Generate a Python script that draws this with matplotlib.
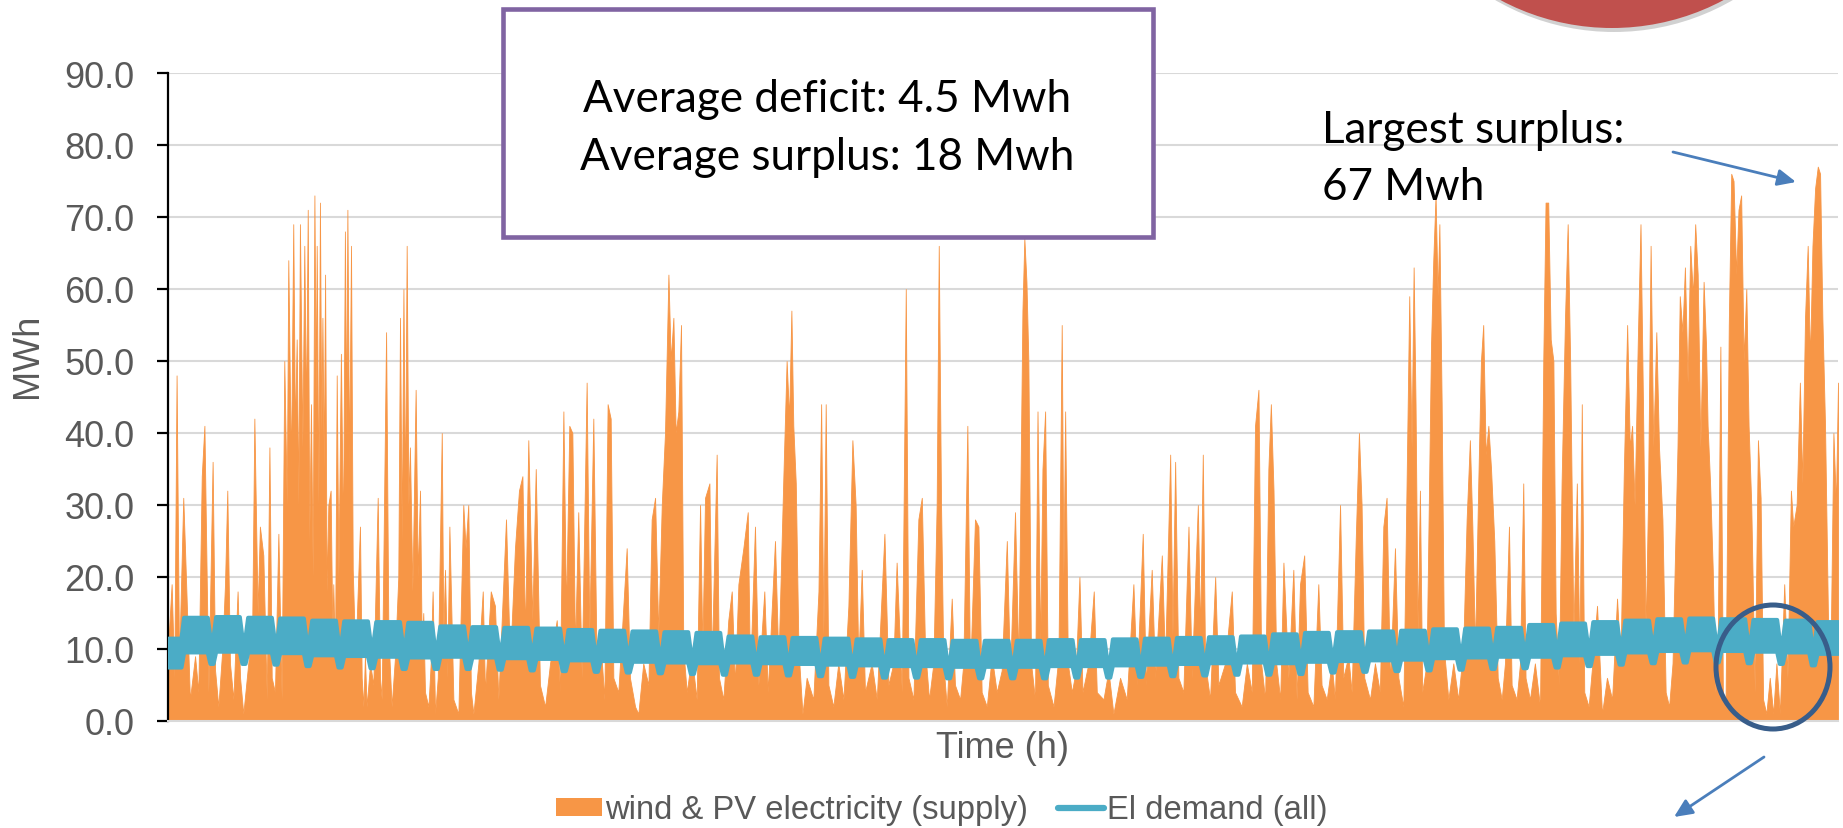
import matplotlib
matplotlib.use("Agg")
import matplotlib.pyplot as plt
from matplotlib.patches import Rectangle, Circle, Ellipse, Patch
from matplotlib.lines import Line2D

# ---------------- data ----------------
# wind & PV supply, hour of year -> MWh (peaks and troughs)
hours_1 = [0, 19, 33, 45, 58, 80, 89, 115, 142, 159,
           177, 191, 212, 234, 247, 264, 285, 299, 311, 325,
           343, 365, 378, 395, 421, 442, 453, 470, 482, 500,
           518, 532, 544, 561, 579, 596, 610, 623, 631, 645,
           657, 666, 675, 684, 692, 705, 715, 724, 733, 741,
           750, 759, 768, 775, 780, 789, 797, 804, 810, 817,
           824, 832, 841, 853, 862, 867, 876, 885, 894, 907,
           918, 928, 935, 941, 950, 960, 969, 981, 990, 1007,
           1016, 1025, 1033, 1042, 1060, 1077, 1100, 1112, 1121, 1144,
           1156, 1173, 1191, 1208, 1217, 1226, 1235, 1243, 1252, 1261,
           1269, 1282, 1299, 1310, 1322, 1331, 1339, 1348, 1366, 1378,
           1388, 1401, 1415, 1436, 1444, 1453, 1465, 1476]
supply_1 = [10, 19, 6, 48, 8, 31, 24, 3, 9, 4,
            34, 41, 4, 36, 7, 2, 10, 19, 32, 8,
            3, 18, 6, 1, 8, 14, 42, 15, 27, 23,
            3, 38, 6, 4, 26, 3, 50, 30, 64, 35,
            69, 40, 53, 30, 69, 38, 66, 42, 71, 25,
            44, 20, 73, 45, 66, 30, 72, 40, 56, 35,
            62, 18, 30, 32, 12, 19, 8, 48, 20, 51,
            25, 68, 40, 71, 35, 66, 21, 10, 14, 27,
            6, 2, 9, 2, 8, 5, 31, 6, 3, 54,
            12, 2, 9, 20, 56, 25, 60, 30, 66, 30,
            38, 18, 46, 20, 32, 10, 15, 4, 2, 8,
            18, 1, 6, 40, 12, 21, 6, 27]

hours_2 = [1497, 1523, 1549, 1561, 1575, 1589, 1602, 1628, 1651, 1663,
           1693, 1715, 1733, 1773, 1794, 1820, 1841, 1859, 1873, 1890,
           1911, 1929, 1951, 1978, 2004, 2039, 2056, 2074, 2088, 2105,
           2121, 2135, 2152, 2170, 2196, 2210, 2231, 2249, 2271, 2289,
           2306, 2322, 2336, 2362, 2380, 2406, 2423, 2450, 2467, 2493,
           2520, 2537, 2555, 2572, 2590, 2607, 2625, 2637, 2651, 2663,
           2677, 2691, 2703, 2721, 2747, 2773, 2791, 2803, 2817, 2840,
           2852, 2878, 2890, 2913]
supply_2 = [3, 1, 30, 24, 30, 4, 1, 8, 18, 4,
            18, 16, 3, 28, 8, 24, 32, 34, 12, 39,
            14, 35, 5, 2, 8, 14, 4, 43, 15, 41,
            40, 10, 29, 6, 47, 12, 42, 6, 10, 3,
            44, 42, 6, 4, 12, 24, 6, 2, 1, 8,
            5, 28, 31, 12, 30, 40, 62, 50, 56, 40,
            43, 55, 10, 4, 9, 3, 30, 10, 31, 33,
            8, 37, 6, 3]

hours_3 = [2939, 2957, 2974, 2992, 3018, 3041, 3053, 3079, 3097, 3128,
           3146, 3184, 3202, 3228, 3245, 3258, 3270, 3280, 3293, 3307,
           3328, 3350, 3385, 3412, 3426, 3438, 3450, 3464, 3490, 3516,
           3543, 3569, 3590, 3607, 3621, 3639, 3656, 3691, 3718, 3758,
           3779, 3805, 3822, 3849, 3870, 3884, 3910, 3936, 3954, 3971,
           3992, 4015, 4032, 4043, 4055, 4067, 4085, 4111, 4128, 4155,
           4172, 4193, 4207, 4233, 4251, 4268, 4295, 4321, 4347, 4373]
supply_3 = [14, 18, 5, 19, 24, 29, 6, 27, 5, 18,
            4, 25, 8, 34, 50, 42, 57, 41, 33, 10,
            1, 6, 3, 18, 44, 12, 44, 5, 2, 8,
            3, 16, 39, 30, 8, 21, 4, 8, 3, 26,
            5, 8, 22, 4, 60, 6, 3, 28, 31, 10,
            3, 8, 30, 66, 30, 8, 2, 17, 5, 3,
            8, 41, 6, 28, 27, 4, 2, 9, 4, 7]

hours_4 = [4400, 4417, 4443, 4461, 4482, 4492, 4503, 4513, 4527, 4548,
           4561, 4575, 4587, 4601, 4615, 4645, 4671, 4688, 4697, 4706,
           4720, 4741, 4762, 4781, 4797, 4828, 4856, 4872, 4907, 4933,
           4959, 4994, 5029, 5064, 5082, 5113, 5129, 5160, 5178, 5213,
           5230, 5257, 5269, 5283, 5300, 5326, 5353, 5370, 5402, 5414,
           5428, 5440, 5466, 5493, 5510, 5545, 5580, 5597, 5632, 5659,
           5685, 5702, 5720, 5734, 5755, 5772, 5785, 5799, 5813, 5834,
           5851, 5877]
supply_4 = [25, 6, 29, 8, 57, 67, 61, 50, 8, 3,
            43, 10, 35, 43, 5, 2, 9, 55, 20, 43,
            8, 4, 7, 20, 4, 8, 18, 4, 3, 7,
            1, 6, 3, 19, 5, 26, 5, 21, 6, 23,
            8, 37, 12, 36, 6, 4, 27, 6, 30, 12,
            37, 8, 3, 20, 5, 8, 18, 4, 2, 8,
            4, 41, 46, 8, 3, 35, 44, 32, 8, 3,
            22, 6]

hours_5 = [5903, 5920, 5938, 5960, 5978, 6008, 6034, 6051, 6078, 6104,
           6121, 6148, 6165, 6191, 6209, 6230, 6247, 6261, 6275, 6305,
           6331, 6357, 6375, 6392, 6410, 6436, 6454, 6480, 6497, 6511,
           6523, 6534, 6544, 6555, 6567, 6579, 6602, 6625, 6637, 6649,
           6660, 6669, 6681, 6693, 6716, 6742, 6768, 6794, 6812, 6829,
           6842, 6856, 6873, 6887, 6899, 6912, 6926, 6940, 6957, 6975,
           6996, 7013, 7034, 7048, 7074, 7092, 7109, 7121, 7144, 7170,
           7197, 7214, 7226, 7240, 7253, 7267, 7279, 7296, 7310, 7328,
           7342]
supply_5 = [21, 3, 19, 23, 4, 2, 19, 5, 3, 8,
            3, 30, 6, 9, 4, 25, 40, 30, 6, 3,
            8, 4, 27, 31, 5, 24, 6, 2, 33, 59,
            38, 63, 44, 12, 32, 4, 8, 52, 64, 73,
            59, 69, 44, 10, 3, 8, 3, 10, 28, 39,
            27, 10, 33, 50, 55, 37, 41, 35, 25, 6,
            3, 8, 27, 5, 3, 8, 33, 6, 3, 8,
            2, 50, 72, 72, 53, 50, 15, 5, 33, 56,
            69]

hours_6 = [7355, 7372, 7390, 7404, 7416, 7429, 7452, 7478, 7496, 7522,
           7548, 7575, 7601, 7619, 7636, 7654, 7668, 7680, 7693, 7710,
           7724, 7737, 7751, 7763, 7777, 7791, 7807, 7821, 7839, 7856,
           7874, 7892, 7918, 7930, 7944, 7957, 7971, 7985, 7999, 8011,
           8024, 8038, 8055, 8068, 8076, 8089, 8103, 8117, 8129, 8143,
           8156, 8170, 8187, 8200, 8212, 8226, 8238, 8252, 8265, 8279,
           8291, 8305, 8323, 8340, 8354, 8367, 8384, 8402, 8420, 8437,
           8455, 8478, 8495, 8513, 8525, 8543, 8560, 8573, 8587, 8601,
           8613, 8626, 8640, 8654, 8666, 8678, 8692, 8707, 8719, 8736,
           8749, 8760]
supply_6 = [50, 12, 33, 8, 44, 4, 2, 10, 16, 1,
            6, 3, 17, 8, 34, 55, 38, 41, 30, 53,
            69, 44, 12, 30, 66, 38, 54, 38, 28, 4,
            2, 8, 38, 59, 54, 63, 47, 66, 59, 69,
            62, 38, 61, 52, 41, 33, 21, 4, 10, 52,
            4, 2, 55, 76, 75, 62, 71, 73, 50, 60,
            41, 30, 4, 39, 31, 3, 1, 6, 1, 8,
            1, 19, 6, 32, 27, 30, 47, 33, 56, 66,
            50, 66, 74, 77, 76, 56, 41, 15, 5, 40,
            30, 47]

# El demand: daily high / low band of each weekday block (53 blocks)
demand_wd_hi = [11.5, 14.4, 14.5, 14.4, 14.3, 14.0, 13.9, 13.8, 13.7,
                13.2, 13.1, 13.0, 12.9, 12.7, 12.6, 12.5, 12.4, 12.3,
                11.8, 11.7, 11.6, 11.5, 11.4, 11.3, 11.3, 11.2, 11.2,
                11.2, 11.3, 11.3, 11.4, 11.5, 11.6, 11.7, 11.8,
                12.1, 12.3, 12.4, 12.5, 12.6, 12.8, 12.9, 13.0,
                13.4, 13.6, 13.8, 14.0, 14.2, 14.3, 14.2, 14.1, 14.0, 13.8]
demand_wd_lo = [7.5, 9.6, 9.7, 9.6, 9.5, 9.2, 9.1, 9.0, 8.9,
                9.0, 8.9, 8.8, 8.7, 8.5, 8.4, 8.3, 8.2, 8.1,
                8.2, 8.1, 8.0, 7.9, 7.8, 7.7, 7.7, 7.6, 7.6,
                7.6, 7.7, 7.7, 7.8, 7.9, 8.0, 8.1, 8.2,
                8.1, 8.3, 8.4, 8.5, 8.6, 8.8, 8.9, 9.0,
                9.0, 9.2, 9.4, 9.6, 9.8, 9.9, 9.8, 9.7, 9.6, 9.4]
# weekend dip of each week (52 weekends)
demand_we_hi = [11.5, 11.6, 11.6, 11.5, 11.3, 11.1, 11.0, 10.9, 10.6,
                10.4, 10.3, 10.2, 10.0, 9.9, 9.8, 9.7, 9.6, 9.3,
                9.0, 8.9, 8.8, 8.7, 8.6, 8.5, 8.5, 8.4, 8.4,
                8.4, 8.5, 8.5, 8.6, 8.7, 8.8, 8.9, 9.1,
                9.4, 9.6, 9.7, 9.8, 9.9, 10.1, 10.2, 10.4,
                10.7, 10.9, 11.1, 11.3, 11.5, 11.4, 11.3, 11.2, 11.0]
demand_we_lo = [7.5, 8.0, 8.0, 7.9, 7.7, 7.5, 7.4, 7.3, 7.3,
                7.3, 7.2, 7.1, 7.0, 6.9, 6.8, 6.7, 6.6, 6.5,
                6.5, 6.4, 6.3, 6.2, 6.1, 6.1, 6.0, 6.0, 6.0,
                6.0, 6.1, 6.1, 6.2, 6.3, 6.4, 6.5, 6.5,
                6.6, 6.8, 6.9, 7.0, 7.1, 7.2, 7.3, 7.4,
                7.5, 7.7, 7.9, 8.1, 8.2, 8.2, 8.1, 8.0, 7.8]

y_ticks = [0, 10, 20, 30, 40, 50, 60, 70, 80, 90]
legend_labels = ["wind & PV electricity (supply)", "El demand (all)"]
box_lines = ["Average deficit: 4.5 Mwh", "Average surplus: 18 Mwh"]
surplus_lines = ["Largest surplus:", "67 Mwh"]

# ---------------- assemble series ----------------
hours, supply = [], []
for hh, ss in [(hours_1, supply_1), (hours_2, supply_2), (hours_3, supply_3),
               (hours_4, supply_4), (hours_5, supply_5), (hours_6, supply_6)]:
    n = min(len(hh), len(ss))
    hours += hh[:n]
    supply += ss[:n]

dem_h, dem_hi, dem_lo = [0], [demand_wd_hi[0]], [demand_wd_lo[0]]
for k in range(len(demand_we_hi)):
    t = 60 + 168 * k
    dem_h += [t - 22, t - 8, t + 8, t + 22]
    dem_hi += [demand_wd_hi[k], demand_we_hi[k], demand_we_hi[k], demand_wd_hi[k + 1]]
    dem_lo += [demand_wd_lo[k], demand_we_lo[k], demand_we_lo[k], demand_wd_lo[k + 1]]
dem_h.append(8760)
dem_hi.append(demand_wd_hi[-1])
dem_lo.append(demand_wd_lo[-1])

ORANGE = "#F79646"
BLUE = "#4BACC6"
GREY_TXT = "#595959"
SANS = ["Liberation Sans", "DejaVu Sans"]
CAL = ["Lato", "DejaVu Sans"]

W, H = 1843, 829
fig = plt.figure(figsize=(W / 100, H / 100), dpi=100)
ax = fig.add_axes([168 / W, 1 - 722 / H, 1670 / W, 648 / H])

ax.fill_between(hours, supply, 0, color=ORANGE, edgecolor=ORANGE, lw=0.6, zorder=2)
band = ax.fill_between(dem_h, dem_lo, dem_hi, color=BLUE, edgecolor=BLUE, lw=3,
                       zorder=3)
try:
    band.set_joinstyle("round")
except Exception:
    pass

ax.set_xlim(0, 8760)
ax.set_ylim(0, 90)
ax.set_yticks(y_ticks)
ax.set_yticklabels([f"{v:.1f}" for v in y_ticks], family=SANS)
ax.set_xticks([])
ax.grid(axis="y", color="#D9D9D9", lw=1.5)
ax.set_axisbelow(True)
for s in ["top", "right"]:
    ax.spines[s].set_visible(False)
ax.spines["bottom"].set_color("#D9D9D9")
ax.spines["bottom"].set_linewidth(1.5)
ax.spines["left"].set_color("black")
ax.spines["left"].set_linewidth(1.6)
ax.tick_params(axis="y", length=8, width=1.6, color="black", labelsize=26,
               labelcolor=GREY_TXT, pad=16)

# legend
handles = [Patch(facecolor=ORANGE, edgecolor="none"),
           Line2D([], [], color=BLUE, lw=4.5, solid_capstyle="round")]
fig.legend(handles, legend_labels, loc="center", bbox_to_anchor=(0.511, 1 - 811 / H),
           ncol=2, frameon=False, prop={"family": SANS, "size": 23.6},
           labelcolor=GREY_TXT, handlelength=1.4, handleheight=0.5,
           handletextpad=0.1, columnspacing=0.9)

# overlay in pixel coordinates for annotations
ov = fig.add_axes([0, 0, 1, 1], zorder=10)
ov.set_xlim(0, W)
ov.set_ylim(H, 0)
ov.axis("off")

ov.text(28, 356, "MWh", rotation=90, ha="center", va="center", fontsize=26,
        color=GREY_TXT, family=SANS)
ov.text(1003, 748, "Time (h)", ha="center", va="center", fontsize=26,
        color=GREY_TXT, family=SANS)

# red circle at top (partly off the page)
ov.add_patch(Circle((1614, -204), 237, facecolor="black", edgecolor="none",
                    alpha=0.18, zorder=1))
ov.add_patch(Circle((1612, -208), 237, facecolor="#C0504D", edgecolor="none", zorder=2))

# info box
ov.add_patch(Rectangle((503, 10), 650, 228, facecolor="white", edgecolor="#8064A2",
                       lw=3.3, zorder=3))
renderer = fig.canvas.get_renderer()


def fit(txt, width):
    w = txt.get_window_extent(renderer).width
    txt.set_fontsize(txt.get_fontsize() * width / w)


t1 = ov.text(827, 112, box_lines[0], ha="center", va="baseline", fontsize=30,
             color="black", family=CAL, zorder=4)
t2 = ov.text(827, 170, box_lines[1], ha="center", va="baseline", fontsize=30,
             color="black", family=CAL, zorder=4)
fit(t1, 486)
t2.set_fontsize(t1.get_fontsize())

t3 = ov.text(1322, 143, surplus_lines[0], ha="left", va="baseline", fontsize=30,
             color="black", family=CAL, zorder=4)
fit(t3, 302)
ov.text(1322, 200, surplus_lines[1], ha="left", va="baseline", fontsize=t3.get_fontsize(),
        color="black", family=CAL, zorder=4)

arrow_kw = dict(arrowstyle="-|>,head_length=0.55,head_width=0.25", color="#4A7EBB",
                lw=2, mutation_scale=20, shrinkA=0, shrinkB=0)
ov.annotate("", xy=(1796, 183), xytext=(1673, 153), arrowprops=arrow_kw, zorder=5)
ov.annotate("", xy=(1674, 818), xytext=(1764, 758), arrowprops=arrow_kw, zorder=5)

ov.add_patch(Ellipse((1773, 668), 114, 124, fill=False, edgecolor="#385D8A",
                     lw=3.6, zorder=5))

fig.savefig("out.png", dpi=100)
